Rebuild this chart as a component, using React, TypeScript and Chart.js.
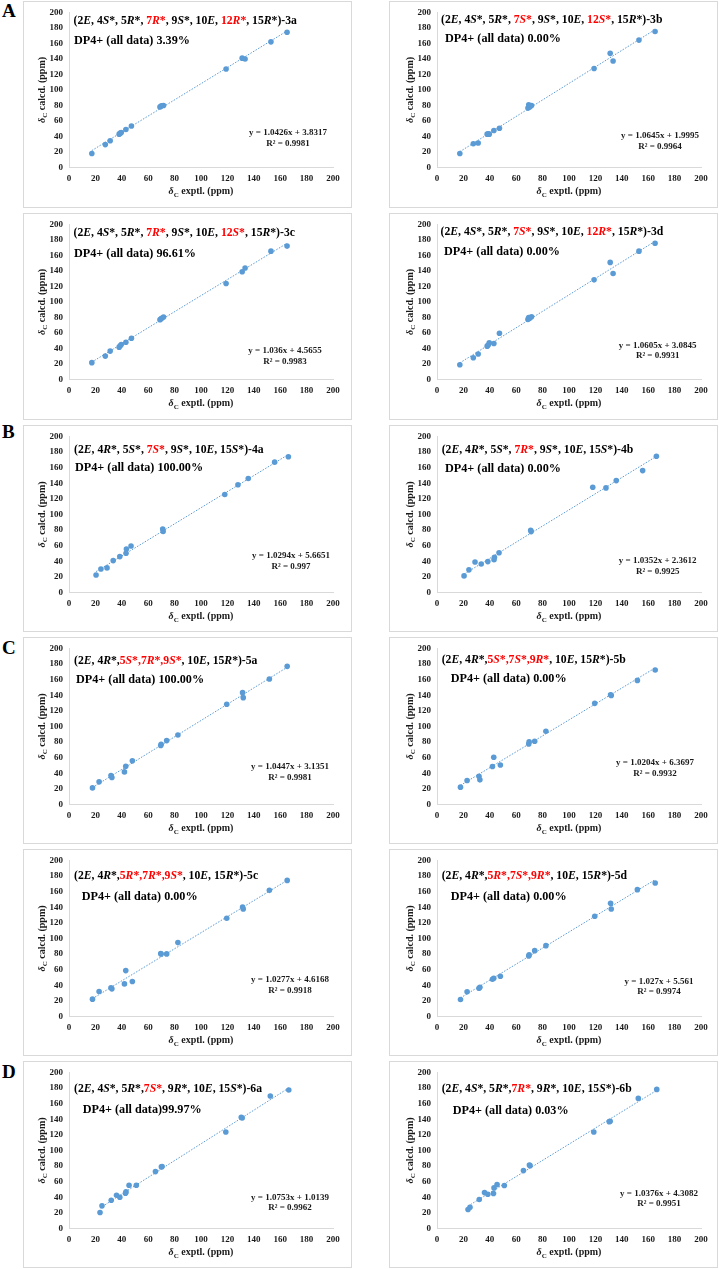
import React, { useEffect, useRef } from 'react';
import { Chart, registerables } from 'chart.js';

Chart.register(...registerables);

const SERIF = '"Times New Roman", "Liberation Serif", serif';
const BLUE = '#5B9BD5';
const AXIS = '#D9D9D9';
const TEXT = '#1a1a1a';

// ---------- data (13C shifts, ppm) ----------
const expt3 = [17.3, 27.5, 31.2, 38.0, 38.8, 39.6, 43.1, 47.3, 68.9, 69.5, 70.2, 71.6, 119.0, 131.2, 133.4, 153.0, 165.2];
const calc3a = [18.0, 29.5, 34.5, 43.0, 44.3, 45.0, 49.0, 53.6, 78.0, 79.0, 79.5, 80.0, 127.0, 141.0, 140.0, 162.0, 174.5];
const calc3b = [18.0, 30.6, 31.5, 43.0, 43.4, 43.0, 47.7, 50.6, 76.6, 81.0, 78.0, 80.0, 127.7, 147.2, 137.4, 164.3, 175.3];
const calc3c = [21.7, 30.2, 36.6, 41.7, 43.5, 45.0, 48.1, 53.2, 77.0, 78.0, 79.0, 80.5, 123.8, 139.0, 143.8, 165.5, 172.0];
const calc3d = [19.0, 28.0, 32.8, 43.0, 44.5, 47.2, 46.4, 59.6, 77.5, 80.0, 79.0, 81.0, 128.5, 151.0, 136.6, 165.5, 175.7];

const expt4 = [20.5, 24.2, 28.8, 33.5, 38.5, 43.2, 43.5, 47.0, 71.0, 71.3, 118.0, 128.0, 135.8, 155.8, 166.2];
const calc4a = [22.5, 30.2, 31.5, 40.9, 46.0, 50.2, 55.7, 59.6, 81.3, 78.3, 125.5, 138.0, 146.0, 167.0, 174.0];
const calc4b = [21.3, 29.0, 39.1, 36.6, 39.6, 42.1, 45.1, 51.0, 79.6, 78.0, 134.9, 134.0, 143.4, 156.2, 174.5];

const expt5 = [17.8, 22.8, 31.8, 32.5, 42.0, 43.0, 48.0, 69.5, 69.8, 74.0, 82.5, 119.5, 131.5, 132.0, 151.8, 165.3];
const calc5a = [21.3, 29.0, 37.1, 34.5, 41.8, 49.0, 55.9, 75.5, 77.2, 81.9, 89.1, 128.4, 143.3, 136.9, 160.8, 177.0];
const calc5b = [22.2, 30.7, 36.2, 31.6, 48.6, 60.6, 50.7, 77.6, 80.2, 81.0, 93.8, 129.6, 140.7, 139.8, 159.0, 172.3];
const calc5c = [22.2, 32.0, 36.7, 35.4, 41.8, 58.8, 44.8, 80.6, 80.0, 80.2, 94.7, 125.8, 140.3, 137.7, 161.6, 174.4];
const calc5d = [21.7, 31.6, 36.2, 37.5, 47.8, 49.0, 51.6, 77.6, 78.9, 84.4, 90.8, 128.4, 145.0, 137.7, 162.5, 171.0];

const expt6 = [23.5, 25.0, 32.0, 36.0, 38.5, 42.8, 43.2, 45.5, 51.0, 65.5, 70.0, 70.5, 118.8, 130.5, 131.2, 152.5, 166.5];
const calc6a = [20.5, 29.0, 36.2, 42.6, 40.0, 45.2, 46.9, 55.4, 55.4, 72.9, 78.9, 79.5, 123.7, 142.4, 141.5, 169.7, 177.4];
const calc6b = [24.3, 27.3, 37.1, 46.0, 43.9, 44.8, 52.0, 56.3, 55.0, 74.2, 81.4, 80.5, 123.7, 136.9, 137.5, 166.7, 178.2];

// markup: _ toggles italic, { } marks red
const headers = [
  '(2_E_, 4_S_*, 5_R_*, {7_R_*}, 9_S_*, 10_E_, {12_R_*}, 15_R_*)-3a',
  '(2_E_, 4_S_*, 5_R_*, {7_S_*}, 9_S_*, 10_E_, {12_S_*}, 15_R_*)-3b',
  '(2_E_, 4_S_*, 5_R_*, {7_R_*}, 9_S_*, 10_E_, {12_S_*}, 15_R_*)-3c',
  '(2_E_, 4_S_*, 5_R_*, {7_S_*}, 9_S_*, 10_E_, {12_R_*}, 15_R_*)-3d',
  '(2_E_, 4_R_*, 5_S_*, {7_S_*}, 9_S_*, 10_E_, 15_S_*)-4a',
  '(2_E_, 4_R_*, 5_S_*, {7_R_*}, 9_S_*, 10_E_, 15_S_*)-4b',
  '(2_E_, 4_R_*,{5_S_*,7_R_*,9_S_*}, 10_E_, 15_R_*)-5a',
  '(2_E_, 4_R_*,{5_S_*,7_S_*,9_R_*}, 10_E_, 15_R_*)-5b',
  '(2_E_, 4_R_*,{5_R_*,7_R_*,9_S_*}, 10_E_, 15_R_*)-5c',
  '(2_E_, 4_R_*,{5_R_*,7_S_*,9_R_*}, 10_E_, 15_R_*)-5d',
  '(2_E_, 4_S_*, 5_R_*,{7_S_*}, 9_R_*, 10_E_, 15_S_*)-6a',
  '(2_E_, 4_S_*, 5_R_*,{7_R_*}, 9_R_*, 10_E_, 15_S_*)-6b',
];
const dp4Labels = [
  'DP4+ (all data) 3.39%', 'DP4+ (all data) 0.00%',
  'DP4+ (all data) 96.61%', 'DP4+ (all data) 0.00%',
  'DP4+ (all data) 100.00%', 'DP4+ (all data) 0.00%',
  'DP4+ (all data) 100.00%', 'DP4+ (all data) 0.00%',
  'DP4+ (all data) 0.00%', 'DP4+ (all data) 0.00%',
  'DP4+ (all data)99.97%', 'DP4+ (all data) 0.03%',
];
const slopes = ['1.0426', '1.0645', '1.036', '1.0605', '1.0294', '1.0352', '1.0447', '1.0204', '1.0277', '1.027', '1.0753', '1.0376'];
const intercepts = ['3.8317', '1.9995', '4.5655', '3.0845', '5.6651', '2.3612', '3.1351', '6.3697', '4.6168', '5.561', '1.0139', '4.3082'];
const r2Labels = ['0.9981', '0.9964', '0.9983', '0.9931', '0.997', '0.9925', '0.9981', '0.9932', '0.9918', '0.9974', '0.9962', '0.9951'];
const exptSets = [expt3, expt3, expt3, expt3, expt4, expt4, expt5, expt5, expt5, expt5, expt6, expt6];
const calcSets = [calc3a, calc3b, calc3c, calc3d, calc4a, calc4b, calc5a, calc5b, calc5c, calc5d, calc6a, calc6b];
const tickValues = [0, 20, 40, 60, 80, 100, 120, 140, 160, 180, 200];
const sectionLetters = ['A', 'B', 'C', 'D'];

// ---------- layout ----------
const BOX_W = 329;
const BOX_H = 207;
const PLOT_W = 264;
const PLOT_H = 156.5;
const colLeft = [23, 389];
const colYAxisW = [46, 48];
const rowTop = [1, 213, 425, 637, 849, 1061];
const rowPadTop = [10, 10, 11, 11, 11, 11];
const letterBaselines = [17.3, 438.3, 654, 1078.3];
const hdrPos = [[4.5, 11.3], [4, 10.6], [4.5, 12], [3.5, 10.6], [5, 17], [4.7, 17], [5, 15.6], [4.7, 15], [5, 18.3], [4.7, 18.3], [5, 19.3], [4.7, 20]];
const dpPos = [[5, 32], [8, 29.6], [5, 32.6], [7, 31], [6, 35], [8, 35.3], [7, 34.3], [13.7, 34], [12.7, 40], [13.7, 40], [13.7, 41], [15.7, 41.6]];
const eqPos = [[219, 122.6], [223, 126], [216, 129], [220.7, 123.3], [222, 122], [220.7, 127], [221, 121], [218, 116.6], [221, 121.6], [222, 123.3], [221, 127.3], [222, 123.3]];

type Run = { text: string; italic: boolean; red: boolean };

function parseRuns(s: string): Run[] {
  const runs: Run[] = [];
  let italic = false;
  let red = false;
  let buf = '';
  const push = () => {
    if (buf) runs.push({ text: buf, italic, red });
    buf = '';
  };
  for (const ch of s) {
    if (ch === '_') { push(); italic = !italic; }
    else if (ch === '{') { push(); red = true; }
    else if (ch === '}') { push(); red = false; }
    else buf += ch;
  }
  push();
  return runs;
}

function drawRuns(ctx: CanvasRenderingContext2D, runs: Run[], x: number, y: number, size: number) {
  ctx.textAlign = 'left';
  ctx.textBaseline = 'alphabetic';
  for (const r of runs) {
    ctx.font = `${r.italic ? 'italic ' : ''}bold ${size}px ${SERIF}`;
    ctx.fillStyle = r.red ? '#FF0000' : '#000000';
    ctx.fillText(r.text, x, y);
    x += ctx.measureText(r.text).width;
  }
}

function drawDeltaTitle(ctx: CanvasRenderingContext2D, rest: string, cx: number, baseline: number, size: number) {
  const f1 = `italic bold ${size}px ${SERIF}`;
  const f2 = `bold ${Math.round(size * 0.65)}px ${SERIF}`;
  const f3 = `bold ${size}px ${SERIF}`;
  ctx.font = f1; const w1 = ctx.measureText('δ').width;
  ctx.font = f2; const w2 = ctx.measureText('C').width;
  ctx.font = f3; const w3 = ctx.measureText(rest).width;
  let x = cx - (w1 + w2 + w3) / 2;
  ctx.textAlign = 'left';
  ctx.textBaseline = 'alphabetic';
  ctx.fillStyle = TEXT;
  ctx.font = f1; ctx.fillText('δ', x, baseline); x += w1;
  ctx.font = f2; ctx.fillText('C', x, baseline + 2.5); x += w2;
  ctx.font = f3; ctx.fillText(rest, x, baseline);
}

function Panel({ idx }: { idx: number }) {
  const ref = useRef<HTMLCanvasElement>(null);
  const row = Math.floor(idx / 2);
  const col = idx % 2;
  useEffect(() => {
    const canvas = ref.current;
    if (!canvas) return;
    const expt = exptSets[idx];
    const calc = calcSets[idx];
    const pts = expt.map((x, i) => ({ x, y: calc[i] }));
    const m = parseFloat(slopes[idx]);
    const b = parseFloat(intercepts[idx]);
    const xMin = Math.min(...expt);
    const xMax = Math.max(...expt);
    const trend = [{ x: xMin, y: m * xMin + b }, { x: xMax, y: m * xMax + b }];
    const padTop = rowPadTop[row];
    const yW = colYAxisW[col];
    const xH = BOX_H - padTop - PLOT_H;
    const rightPad = BOX_W - yW - PLOT_W;
    const headerRuns = parseRuns(headers[idx]);

    const textPlugin = {
      id: 'panelText',
      beforeDraw(chart: any) {
        const ctx = chart.ctx as CanvasRenderingContext2D;
        ctx.save();
        ctx.fillStyle = '#ffffff';
        ctx.fillRect(0, 0, chart.width, chart.height);
        ctx.strokeStyle = AXIS;
        ctx.lineWidth = 1;
        ctx.strokeRect(0.5, 0.5, chart.width - 1, chart.height - 1);
        ctx.restore();
      },
      afterDraw(chart: any) {
        const ctx = chart.ctx as CanvasRenderingContext2D;
        const a = chart.chartArea;
        ctx.save();
        drawRuns(ctx, headerRuns, a.left + hdrPos[idx][0], a.top + hdrPos[idx][1], 11.7);
        ctx.font = `bold 12.2px ${SERIF}`;
        ctx.fillStyle = '#000000';
        ctx.textAlign = 'left';
        ctx.fillText(dp4Labels[idx], a.left + dpPos[idx][0], a.top + dpPos[idx][1]);
        ctx.font = `bold 9px ${SERIF}`;
        ctx.fillStyle = TEXT;
        ctx.textAlign = 'center';
        const ex = a.left + eqPos[idx][0];
        const ey = a.top + eqPos[idx][1];
        ctx.fillText(`y = ${slopes[idx]}x + ${intercepts[idx]}`, ex, ey);
        ctx.fillText(`R² = ${r2Labels[idx]}`, ex, ey + 10.5);
        // axis titles
        drawDeltaTitle(ctx, ' exptl. (ppm)', (a.left + a.right) / 2, a.bottom + 26.5, 10);
        ctx.translate(a.left - 28, (a.top + a.bottom) / 2);
        ctx.rotate(-Math.PI / 2);
        drawDeltaTitle(ctx, ' calcd. (ppm)', 0, 3.5, 10);
        ctx.restore();
      },
    };

    const tickFont = { family: SERIF, size: 9, weight: 'bold' as const };
    const chart = new Chart(canvas, {
      type: 'scatter',
      data: {
        datasets: [
          {
            type: 'line',
            data: trend,
            borderColor: BLUE,
            borderWidth: 1,
            borderDash: [1.5, 1.5],
            pointRadius: 0,
            fill: false,
            order: 0,
          } as any,
          {
            data: pts,
            backgroundColor: BLUE,
            borderColor: BLUE,
            borderWidth: 0,
            pointRadius: 2.8,
            order: 1,
          },
        ],
      },
      options: {
        responsive: false,
        animation: false,
        devicePixelRatio: 1,
        layout: { padding: { top: padTop, right: rightPad, left: 0, bottom: 0 } },
        plugins: { legend: { display: false }, tooltip: { enabled: false }, title: { display: false } },
        scales: {
          x: {
            type: 'linear',
            min: 0,
            max: 200,
            afterBuildTicks: (s: any) => { s.ticks = tickValues.map((v) => ({ value: v })); },
            ticks: { color: TEXT, font: tickFont, padding: 6, maxRotation: 0, autoSkip: false },
            grid: { display: false, drawTicks: false, tickLength: 0 },
            border: { display: true, color: AXIS, width: 1 },
            afterFit: (s: any) => { s.height = xH; },
          },
          y: {
            type: 'linear',
            min: 0,
            max: 200,
            afterBuildTicks: (s: any) => { s.ticks = tickValues.map((v) => ({ value: v })); },
            ticks: { color: TEXT, font: tickFont, padding: 6, autoSkip: false },
            grid: { display: false, drawTicks: false, tickLength: 0 },
            border: { display: true, color: AXIS, width: 1 },
            afterFit: (s: any) => { s.width = yW; },
          },
        },
      } as any,
      plugins: [textPlugin],
    });
    return () => chart.destroy();
  }, [idx]);

  return (
    <div style={{ position: 'absolute', left: colLeft[col], top: rowTop[row], width: BOX_W, height: BOX_H }}>
      <canvas ref={ref} width={BOX_W} height={BOX_H} style={{ display: 'block' }} />
    </div>
  );
}

export default function App() {
  return (
    <div style={{ position: 'absolute', left: 0, top: 0, width: 719, height: 1269, background: '#ffffff', overflow: 'hidden' }}>
      {sectionLetters.map((L, i) => (
        <div
          key={L}
          style={{
            position: 'absolute',
            left: 2,
            top: letterBaselines[i] - 15.9,
            fontFamily: SERIF,
            fontWeight: 'bold',
            fontSize: 19,
            lineHeight: '19px',
            color: '#000',
          }}
        >
          {L}
        </div>
      ))}
      {headers.map((_, i) => (
        <Panel key={i} idx={i} />
      ))}
    </div>
  );
}
